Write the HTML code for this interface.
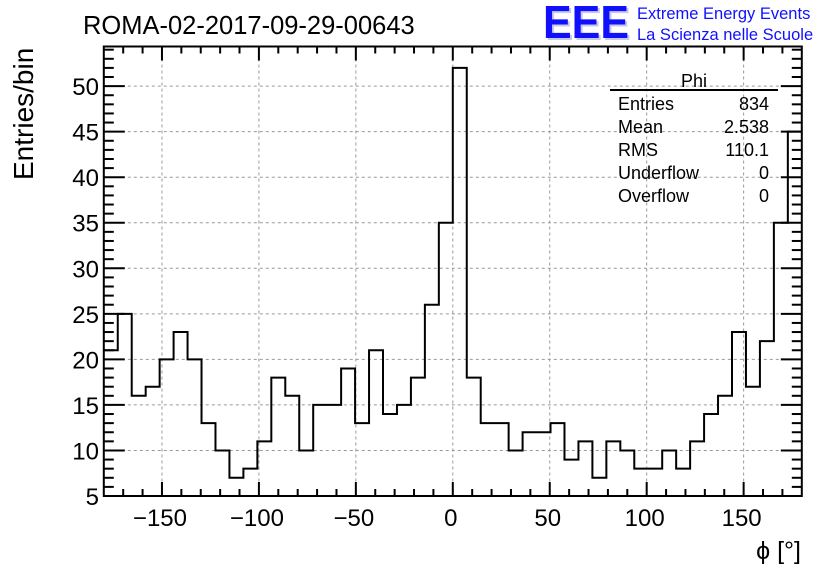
<!DOCTYPE html>
<html><head><meta charset="utf-8"><style>
body{margin:0;background:#fff;}
svg{display:block;font-family:"Liberation Sans",sans-serif;}
</style></head><body>
<svg id="c" width="836" height="572" viewBox="0 0 836 572">
<text x="83" y="34" font-size="25.5">ROMA-02-2017-09-29-00643</text>
<g>
<text x="545" y="40" font-size="46" font-weight="bold" fill="#c8c8e8" textLength="86" lengthAdjust="spacingAndGlyphs">EEE</text>
<text x="543" y="38" font-size="46" font-weight="bold" fill="#1010ff" textLength="86" lengthAdjust="spacingAndGlyphs">EEE</text>
<text x="637" y="19" font-size="16.5" fill="#1010ff">Extreme Energy Events</text>
<text x="637" y="40" font-size="16.5" fill="#1010ff">La Scienza nelle Scuole</text>
</g>
<g id="grid"></g>
<g id="ticks"></g>
<path id="hist" fill="none" stroke="#000" stroke-width="2"/>
<rect x="103.8" y="46.5" width="698" height="449.5" fill="none" stroke="#000" stroke-width="2"/>
<g id="labels"></g>
<text transform="translate(33,180) rotate(-90)" font-size="28">Entries/bin</text>
<text x="801" y="559" font-size="25" text-anchor="end">ϕ [°]</text>
<g font-size="18">
<text x="694" y="87" text-anchor="middle">Phi</text>
<line x1="610" y1="90" x2="778" y2="90" stroke="#000" stroke-width="2"/>
<text x="618" y="110">Entries</text><text x="769" y="110" text-anchor="end">834</text>
<text x="618" y="133">Mean</text><text x="769" y="133" text-anchor="end">2.538</text>
<text x="618" y="156">RMS</text><text x="769" y="156" text-anchor="end">110.1</text>
<text x="618" y="179">Underflow</text><text x="769" y="179" text-anchor="end">0</text>
<text x="618" y="202">Overflow</text><text x="769" y="202" text-anchor="end">0</text>
</g>
</svg>
<script>
const binCounts=[21,25,16,17,20,23,20,13,10,7,8,11,18,16,10,15,15,19,13,21,14,15,18,26,35,52,18,13,13,10,12,12,13,9,11,7,11,10,8,8,10,8,11,14,16,23,17,22,35,45];
const xTickLabels=[-150,-100,-50,0,50,100,150];
const yTickLabels=[5,10,15,20,25,30,35,40,45,50];
const xMin=-180,xMax=180,yMin=5,yMax=54.35;
const L=103.8,R=801.8,T=46.5,B=496;
const sx=v=>L+(v-xMin)/(xMax-xMin)*(R-L);
const sy=v=>B-(v-yMin)/(yMax-yMin)*(B-T);
const NS="http://www.w3.org/2000/svg";
function mk(tag,parent,attrs){const e=document.createElementNS(NS,tag);for(const k in attrs)e.setAttribute(k,attrs[k]);document.getElementById(parent).appendChild(e);return e;}
xTickLabels.forEach(v=>{const e=mk('line','grid',{x1:sx(v),x2:sx(v),y1:T,y2:B,stroke:'#999','stroke-dasharray':'3,3','stroke-width':1});

});
yTickLabels.forEach(v=>{const e=mk('line','grid',{x1:L,x2:R,y1:sy(v),y2:sy(v),stroke:'#999','stroke-dasharray':'3,3','stroke-width':1});

});
for(let v=-170;v<=170;v+=10){const maj=v%50===0;const len=maj?14:7;
mk('line','ticks',{x1:sx(v),x2:sx(v),y1:B,y2:B-len,stroke:'#000','stroke-width':2});
mk('line','ticks',{x1:sx(v),x2:sx(v),y1:T,y2:T+len,stroke:'#000','stroke-width':2});}
for(let v=6;v<=54;v++){const maj=v%5===0;const len=maj?21:10;
mk('line','ticks',{x1:L,x2:L+len,y1:sy(v),y2:sy(v),stroke:'#000','stroke-width':2});
mk('line','ticks',{x1:R,x2:R-len,y1:sy(v),y2:sy(v),stroke:'#000','stroke-width':2});}
xTickLabels.forEach(v=>{const t=mk('text','labels',{x:sx(v)-2,y:526,'font-size':24,'text-anchor':'middle'});t.textContent=v<0?'\u2212'+(-v):String(v);

});
yTickLabels.forEach(v=>{const t=mk('text','labels',{x:99,y:sy(v)+9,'font-size':24,'text-anchor':'end'});t.textContent=v;

});
const w=(xMax-xMin)/binCounts.length;let d='';
binCounts.forEach((c,i)=>{const x0=sx(xMin+i*w),x1=sx(xMin+(i+1)*w),y=sy(Math.min(c,yMax));
d+=(i===0?'M'+x0+','+y:'L'+x0+','+y)+'L'+x1+','+y;});
document.getElementById('hist').setAttribute('d',d);
</script>
</body></html>
